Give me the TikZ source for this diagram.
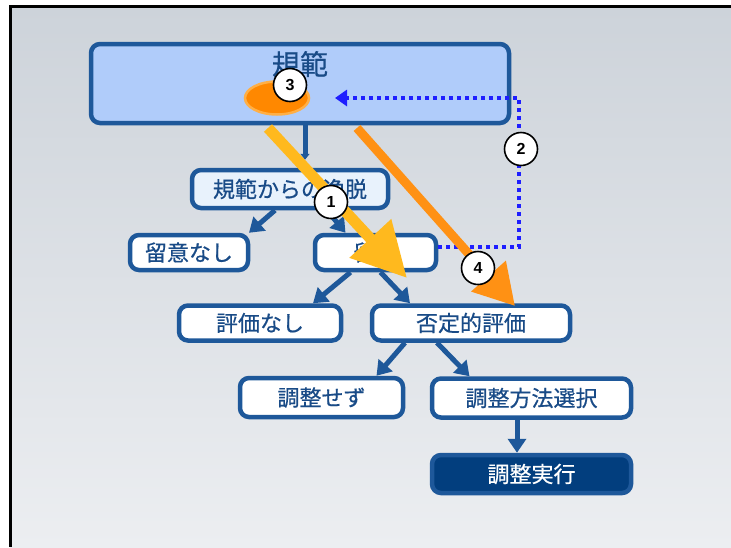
\documentclass[tikz,border=0pt]{standalone}
\usepackage{fontspec}
\setmainfont{Noto Sans CJK JP}[FakeBold=0.6]
\newfontfamily\numfont{Liberation Sans}
\usetikzlibrary{arrows.meta,shapes.geometric}
\definecolor{bdr}{RGB}{30,88,154}
\definecolor{txt}{RGB}{25,75,135}
\definecolor{normfill}{RGB}{176,204,250}
\definecolor{devfill}{RGB}{232,242,252}
\definecolor{execfill}{RGB}{2,62,126}
\definecolor{dotblue}{RGB}{30,30,255}
\definecolor{yel}{RGB}{255,185,30}
\definecolor{org}{RGB}{255,145,20}
\definecolor{ovalfill}{RGB}{255,136,0}
\definecolor{ovalrim}{RGB}{255,175,70}
\definecolor{bgtop}{RGB}{205,211,218}
\definecolor{bgmid}{RGB}{188,196,206}
\definecolor{bgbot}{RGB}{236,238,241}
\begin{document}
\begin{tikzpicture}[x=1pt,y=-1pt,
  box/.style={draw=bdr, line width=4.5pt, rounded corners=9pt, fill=white, text=txt,
    font=\fontsize{22}{24}\selectfont, inner sep=0pt},
  barrow/.style={draw=bdr, line width=5pt, -{Triangle[length=14pt,width=18pt]}},
  numc/.style={circle, draw=black, line width=1.6pt, fill=white, minimum size=33pt,
    inner sep=0pt, font=\numfont\bfseries\fontsize{16}{16}\selectfont},
  bigarrow/.style={line width=11pt, -{Triangle[length=54pt,width=54pt]}},
  dotarrow/.style={draw=dotblue, line width=4pt, dash pattern=on 4pt off 4pt,
    -{Triangle[length=12pt,width=16pt]}}
]
\useasboundingbox (0,0) rectangle (731,547);
\fill[white] (0,0) rectangle (731,547);
\shade[top color=bgtop, middle color=bgmid, bottom color=bgbot] (10,7) rectangle (731,547);
\draw[black, line width=3pt] (10.5,547) -- (10.5,6.5) -- (731,6.5);

% boxes
\node[box, fill=normfill, minimum width=418pt, minimum height=79pt] (norm) at (300,83.5) {};
\node[text=txt, font=\fontsize{28}{30}\selectfont, inner sep=0pt] (normtxt) at (300,64) {規範};
\node[box, fill=devfill, minimum width=196pt, minimum height=38pt] (dev) at (290,189) {規範からの逸脱};
\node[box, minimum width=118pt, minimum height=35pt] (noatt) at (189,252.5) {留意なし};
\node[box, minimum width=121pt, minimum height=35pt] (att) at (375.5,252.5) {\raisebox{-4pt}{留意}};
\node[box, minimum width=162pt, minimum height=35pt] (noeval) at (260,323) {評価なし};
\node[box, minimum width=198pt, minimum height=35pt] (neg) at (471,323) {否定的評価};
\node[box, minimum width=163pt, minimum height=39pt] (noadj) at (321.5,397.5) {調整せず};
\node[box, minimum width=199pt, minimum height=39pt] (sel) at (531.5,398) {調整方法選択};
\node[box, fill=execfill, text=white, minimum width=199pt, minimum height=38pt] (exec) at (531.5,474) {調整実行};

% blue connectors
\draw[barrow, shorten >=8pt, -{Triangle[length=6pt,width=9pt]}] ([xshift=5pt]norm.south) -- ([xshift=15pt]dev.north);
\draw[barrow] ([xshift=-15pt]dev.south) -- ([xshift=60pt]noatt.north);
\draw[barrow] ([xshift=37pt]dev.south) -- ([xshift=-30pt]att.north);
\draw[barrow] ([xshift=-25pt]att.south) -- ([xshift=53pt]noeval.north);
\draw[barrow] ([xshift=5pt]att.south) -- ([xshift=-61pt]neg.north);
\draw[barrow] ([xshift=-66pt]neg.south) -- ([xshift=55pt]noadj.north);
\draw[barrow] ([xshift=-34pt]neg.south) -- ([xshift=-62pt]sel.north);
\draw[barrow] ([xshift=-14.5pt]sel.south) -- ([xshift=-14.5pt]exec.north);

% orange oval
\node[ellipse, fill=ovalfill, draw=ovalrim, line width=2.5pt, minimum width=64pt, minimum height=33pt] (oval) at (277,98) {};

% dotted feedback
\coordinate (c1) at (519,247);
\coordinate (c2) at (519,98);
\coordinate (c3) at (335,98);
\draw[dotarrow] ([yshift=5.5pt]att.east) -- (c1) -- (c2) -- (c3);

% big arrows
\coordinate (y1s) at (268,128);
\coordinate (y1e) at (407,278);
\coordinate (o4s) at (357,128);
\coordinate (o4e) at (515,306);
\draw[bigarrow, draw=yel, fill=yel] (y1s) -- (y1e);
\draw[bigarrow, draw=org, fill=org, line width=9pt, -{Triangle[length=40pt,width=44pt]}] (o4s) -- (o4e);

% number circles
\node[numc] (n1) at (331,202) {1};
\node[numc] (n2) at (521,149) {2};
\node[numc] (n3) at (290,85) {3};
\node[numc] (n4) at (478,268) {4};
\end{tikzpicture}
\end{document}
